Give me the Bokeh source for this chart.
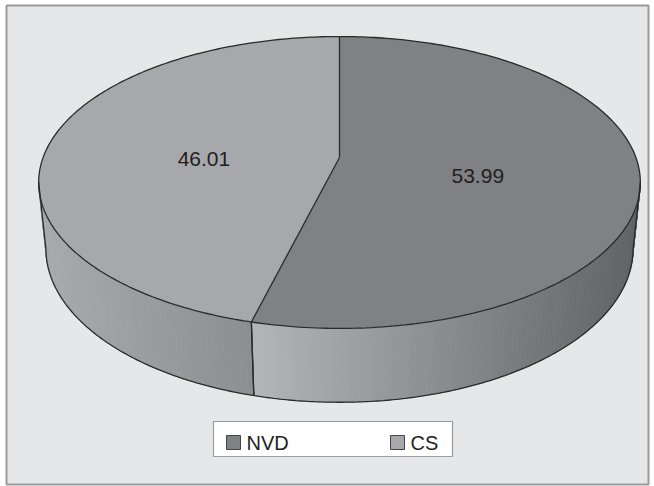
import numpy as np
from bokeh.plotting import figure
from bokeh.models import Range1d
from bokeh.core.properties import value
from bokeh.embed import file_html
from bokeh.resources import INLINE

# ---------------- data ----------------
labels = ["NVD", "CS"]
values = [53.99, 46.01]
label_texts = ["53.99", "46.01"]

# ---------------- styles ----------------
top_colors = ["#808184", "#a7a8ab"]
side_left = ["#b4b5b8", "#a9aaad"]
side_right = ["#616265", "#8d8e91"]
edge_color = "#2a2a2a"
bg_color = "#e6e7e8"
frame_color = "#9a9b9d"
text_color = "#231f20"
FONT = "Liberation Sans"

W, H = 654, 486

# ---------------- perspective geometry ----------------
CX, CY = 339.0, 157.0          # projected pie centre
ALPHA = np.radians(28.55)       # camera pitch
SA, CA = np.sin(ALPHA), np.cos(ALPHA)
L = 5.135                       # camera distance (disc radius = 1)
F = 1522.0                      # focal length in px
T = 0.2577                      # pie thickness


def proj(x, z, h):
    zc = L - h * SA + z * CA
    yc = z * SA + h * CA
    return CX + F * x / zc, CY - F * yc / zc


def pt(theta, h, r=1.0):
    return proj(r * np.cos(theta), r * np.sin(theta), h)


def hex2rgb(c):
    c = c.lstrip("#")
    return np.array([int(c[i:i + 2], 16) for i in (0, 2, 4)], dtype=float)


def mix(c1, c2, f):
    a, b = hex2rgb(c1), hex2rgb(c2)
    m = a + (b - a) * f
    return "#%02x%02x%02x" % tuple(int(round(v)) for v in m)


fracs = np.array(values) / sum(values)
bounds = np.pi / 2 - 2 * np.pi * np.concatenate([[0], np.cumsum(fracs)])

p = figure(width=W, height=H, x_range=Range1d(0, W), y_range=Range1d(H, 0),
           output_backend="svg", toolbar_location=None, min_border=0)
p.axis.visible = False
p.grid.visible = False
p.outline_line_color = None
p.background_fill_color = "white"
p.border_fill_color = "white"

# outer frame
p.quad(left=[6], right=[648], top=[5], bottom=[484], fill_color=bg_color,
       line_color=frame_color, line_width=2)

# ---------------- side walls ----------------
k_top = CA / L
f0 = np.pi + np.arcsin(k_top)
f1 = 2 * np.pi - np.arcsin(k_top)

xs_s, ys_s, cols_s = [], [], []
side_edges = []
for i in range(len(values)):
    lo, hi = bounds[i + 1], bounds[i]
    for shift in (-2 * np.pi, 0, 2 * np.pi):
        a, b = max(lo + shift, f0), min(hi + shift, f1)
        if b <= a:
            continue
        for edge in (lo + shift, hi + shift):
            if f0 < edge < f1:
                side_edges.append(edge)
        th = np.linspace(a, b, max(3, int((b - a) / np.radians(1)) + 2))
        xt, _ = pt(th, 0.0)
        xmin, xmax = xt.min(), xt.max()
        for j in range(len(th) - 1):
            t0, t1 = th[j], th[j + 1]
            tx0, ty0 = pt(t0, 0.0)
            tx1, ty1 = pt(t1, 0.0)
            bx0, by0 = pt(t0, -T)
            bx1, by1 = pt(t1, -T)
            fm = ((tx0 + tx1) / 2 - xmin) / max(xmax - xmin, 1)
            c = mix(side_left[i], side_right[i], fm)
            xs_s.append([tx0, tx1, bx1, bx0])
            ys_s.append([ty0, ty1, by1, by0])
            cols_s.append(c)

p.patches(xs_s, ys_s, fill_color=cols_s, line_color=cols_s, line_width=0.8)

# ---------------- top faces ----------------
for i in range(len(values)):
    th = np.linspace(bounds[i], bounds[i + 1], 200)
    x, y = pt(th, 0.0)
    xs = np.concatenate([[CX], x])
    ys = np.concatenate([[CY], y])
    p.patch(xs, ys, fill_color=top_colors[i], line_color=None)

# ---------------- outlines ----------------
lines_x, lines_y = [], []
th = np.linspace(0, 2 * np.pi, 400)
x, y = pt(th, 0.0)
lines_x.append(list(x)); lines_y.append(list(y))
th = np.linspace(f0, f1, 300)
x, y = pt(th, -T)
lines_x.append(list(x)); lines_y.append(list(y))
for a in (f0, f1):
    x0, y0 = pt(a, 0.0)
    x1, y1 = pt(a, -T)
    lines_x.append([x0, x1]); lines_y.append([y0, y1])
for a in bounds[:-1]:
    x0, y0 = pt(a, 0.0)
    lines_x.append([CX, x0]); lines_y.append([CY, y0])
for a in side_edges:
    x0, y0 = pt(a, 0.0)
    x1, y1 = pt(a, -T)
    lines_x.append([x0, x1]); lines_y.append([y0, y1])
p.multi_line(lines_x, lines_y, line_color=edge_color, line_width=1.3)

# ---------------- labels ----------------
lx, ly = [], []
for i in range(len(values)):
    mid = (bounds[i] + bounds[i + 1]) / 2
    r = 0.46
    x, y = proj(r * np.cos(mid), r * np.sin(mid) - 0.07, 0.0)
    lx.append(x); ly.append(y)
p.text(lx, ly, text=label_texts, text_align="center", text_baseline="middle",
       text_font=value(FONT), text_font_size="21px", text_color=text_color)

# ---------------- legend ----------------
p.quad(left=[213], right=[452], top=[421], bottom=[456], fill_color="white",
       line_color=frame_color, line_width=1.2)
sq_left = [226, 390]
sq = 14
p.quad(left=sq_left, right=[v + sq for v in sq_left], top=[435, 435],
       bottom=[449, 449], fill_color=top_colors, line_color="#444444", line_width=1)
p.text([v + sq + 6 for v in sq_left], [442.5, 442.5], text=labels,
       text_align="left", text_baseline="middle", text_font=value(FONT),
       text_font_size="20px", text_color=text_color)

open("out.html", "w").write(file_html(p, INLINE))
